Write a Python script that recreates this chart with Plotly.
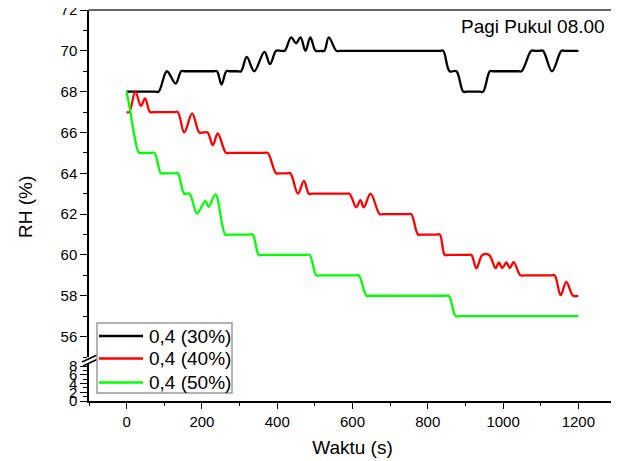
import plotly.graph_objects as go

# ---- data ----
time_30 = [0, 75, 85, 107, 130, 145, 155, 230, 240, 252, 265, 275, 294, 304, 319, 339,
           366, 381, 397, 410, 420, 437, 450, 462, 475, 488, 502, 515, 525, 537, 557,
           567, 831, 841, 858, 876, 894, 904, 937, 947, 965, 975, 1039, 1049, 1075,
           1085, 1096, 1106, 1130, 1155, 1165, 1200]
rh_30 = [68, 68, 68, 69, 68.4, 69, 69, 69, 69, 68.35, 69, 69, 69, 69, 69.7, 69.0,
         69.95, 69.35, 70, 70, 70, 70.66, 70.37, 70.66, 70.0, 70.66, 70.0, 70, 70, 70.66,
         70, 70, 70, 70, 69, 69, 68, 68, 68, 68, 69, 69, 69, 69, 70, 70, 70, 70, 69, 70,
         70, 70]

time_40 = [0, 7, 23, 38, 49, 62, 72, 126, 136, 153, 174, 193, 203, 215, 229, 242, 264,
           274, 365, 375, 397, 407, 425, 435, 455, 471, 484, 494, 582, 592, 610, 621,
           630, 648, 672, 682, 746, 756, 774, 784, 822, 832, 845, 855, 906, 916, 929,
           945, 963, 980, 989, 998, 1009, 1018, 1028, 1046, 1056, 1127, 1137, 1153,
           1168, 1186, 1200]
rh_40 = [67, 67, 68, 67.3, 67.67, 67, 67, 67, 67, 66, 66.94, 66, 66, 66, 65.38, 65.95,
         65, 65, 65, 65, 64, 64, 64, 64, 63, 63.63, 63, 63, 63, 63, 62.33, 62.69, 62.33,
         63.0, 62, 62, 62, 62, 61, 61, 61, 61, 60, 60, 60, 60, 59.34, 60, 60, 59.35,
         59.63, 59.35, 59.63, 59.35, 59.65, 59, 59, 59, 59, 58.03, 58.68, 58, 58]

time_50 = [0, 10, 20, 33, 43, 64, 74, 91, 101, 126, 136, 153, 167, 187, 209, 218, 236,
           262, 272, 325, 335, 351, 361, 476, 486, 504, 514, 607, 617, 637, 647, 846,
           856, 874, 884, 1200]
rh_50 = [68, 67, 65.9, 65, 65, 65, 65, 64, 64, 64, 64, 63, 63, 62.03, 62.65, 62.36,
         62.97, 61, 61, 61, 61, 60, 60, 60, 60, 59, 59, 59, 59, 58, 58, 58, 58, 57, 57, 57]

series_names = ["0,4 (30%)", "0,4 (40%)", "0,4 (50%)"]
series_colors = ["#000000", "#FF0000", "#00FF00"]

x_ticks = [0, 200, 400, 600, 800, 1000, 1200]

FONT = "Arial, Liberation Sans, sans-serif"
OFF = 8  # default page body margin
W, H = 619 - OFF, 461 - OFF
L, R, T, B = 89 - OFF, 3, 10 - OFF, 60
PW, PH = W - L - R, H - T - B


def px(xp):
    """page pixel x -> paper fraction"""
    return (xp - OFF - L) / PW


def py(yp):
    """page pixel y -> paper fraction"""
    return (OFF + T + PH - yp) / PH


fig = go.Figure()
for t, v, name, col in zip([time_30, time_40, time_50], [rh_30, rh_40, rh_50],
                           series_names, series_colors):
    fig.add_trace(go.Scatter(x=t, y=v, name=name, mode="lines", showlegend=False,
                             line=dict(color=col, width=2.3, shape="spline", smoothing=1.0),
                             xaxis="x", yaxis="y"))
# empty trace to hold the lower broken-axis segment
fig.add_trace(go.Scatter(x=[], y=[], xaxis="x", yaxis="y2", showlegend=False,
                         hoverinfo="skip"))

axis_common = dict(showline=True, linecolor="#000000", linewidth=1.5, showgrid=False,
                   zeroline=False, ticks="outside", tickcolor="#000000", tickwidth=1.3,
                   automargin=False, ticklabeloverflow="allow",
                   tickfont=dict(family=FONT, size=15, color="#000000"))

fig.update_layout(
    width=W, height=H,
    margin=dict(l=L, r=R, t=T, b=B, autoexpand=False),
    paper_bgcolor="white", plot_bgcolor="white",
    font=dict(family=FONT, color="#000000"),
    xaxis=dict(domain=[0, 1], range=[-100, 1300], anchor="y2", tickvals=x_ticks,
               ticklen=6,
               minor=dict(dtick=100, tick0=0, ticks="outside", ticklen=3,
                          tickcolor="#000000", tickwidth=1.3),
               title=dict(text="Waktu (s)", font=dict(family=FONT, size=19), standoff=12),
               **axis_common),
    yaxis=dict(domain=[py(357), 1], range=[55, 72], anchor="x", dtick=2, tick0=0,
               ticklen=7,
               minor=dict(dtick=1, ticks="outside", ticklen=4, tickcolor="#000000",
                          tickwidth=1.3),
               **axis_common),
    yaxis2=dict(domain=[0, py(363)], range=[0, 8.7], anchor="x", dtick=2, tick0=0,
                ticklen=7,
                minor=dict(dtick=1, ticks="outside", ticklen=4, tickcolor="#000000",
                           tickwidth=1.3),
                **axis_common),
    showlegend=False,
)

# frame (top and right edges), axis break marks and legend box
shapes = [
    dict(type="line", xref="paper", yref="paper", x0=0, x1=1, y0=1, y1=1,
         line=dict(color="#333333", width=1.5)),
    dict(type="line", xref="paper", yref="paper", x0=1, x1=1, y0=0, y1=1,
         line=dict(color="#333333", width=1.5)),
    dict(type="line", xref="paper", yref="paper", x0=px(82), x1=px(97),
         y0=py(362), y1=py(355), line=dict(color="#000000", width=1.5)),
    dict(type="line", xref="paper", yref="paper", x0=px(83), x1=px(98),
         y0=py(366), y1=py(359), line=dict(color="#000000", width=1.5)),
    dict(type="rect", xref="paper", yref="paper", x0=px(97), x1=px(232),
         y0=py(393), y1=py(323), fillcolor="white",
         line=dict(color="#9a9a9a", width=1.5), layer="above"),
]
legend_rows = [336, 358.5, 382.5]
for row, name, col in zip(legend_rows, series_names, series_colors):
    shapes.append(dict(type="line", xref="paper", yref="paper", x0=px(99), x1=px(143),
                       y0=py(row), y1=py(row), line=dict(color=col, width=2.3),
                       layer="above"))
    fig.add_annotation(text=name, xref="paper", yref="paper", x=px(147), y=py(row),
                       xanchor="left", yanchor="middle", showarrow=False,
                       font=dict(family=FONT, size=19, color="#000000"))
fig.update_layout(shapes=shapes)

fig.add_annotation(text="Pagi Pukul 08.00", xref="paper", yref="paper",
                   x=px(607), y=py(26), xanchor="right", yanchor="middle",
                   showarrow=False, font=dict(family=FONT, size=19, color="#000000"))
fig.add_annotation(text="RH (%)", xref="paper", yref="paper", textangle=-90,
                   x=px(25), y=py(207), xanchor="center", yanchor="middle",
                   showarrow=False, font=dict(family=FONT, size=19, color="#000000"))

fig.write_html("out.html")
